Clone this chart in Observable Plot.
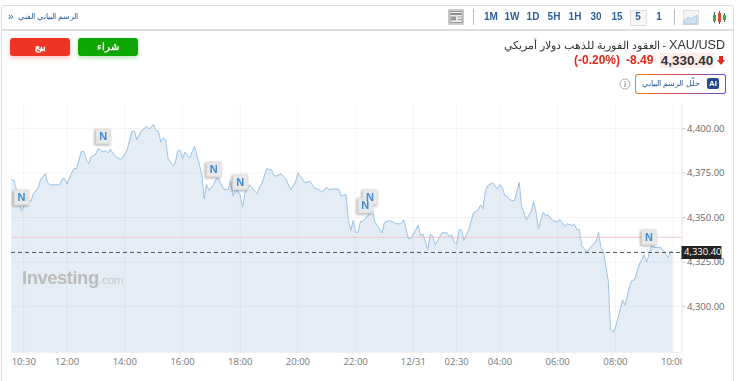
<!DOCTYPE html>
<html><head><meta charset="utf-8">
<script src="https://cdn.jsdelivr.net/npm/d3@7"></script>
<script src="https://cdn.jsdelivr.net/npm/@observablehq/plot@0.6"></script>
<style>
html,body{margin:0;padding:0;background:#fff;overflow:hidden}
#w{position:relative;width:743px;height:381px;font-family:"Liberation Sans",Arial,sans-serif;overflow:hidden}
#w svg.plot{position:absolute;left:0;top:0}
.a{position:absolute;white-space:nowrap}
.t{position:absolute;top:11px;width:20px;text-align:center;font:bold 10px/12px "Liberation Sans",sans-serif;color:#2b5f9e}
.ar{direction:rtl}
</style></head>
<body><div id="w"></div>
<script>
// 5-minute trading bars counted from 10:30 (the session skips the daily break)
const bars = [-5,-4,-3,-2,-1,0,1,3,4,6,7,9,10,11,15,16,17,18,20,21,22,24,25,26,27,28,30,31,33,34,35,36,38,40,41,43,44,45,46,47,49,50,51,52,54,55,56,57,58,59,60,62,63,64,65,66,67,69,71,74,75,76,77,79,80,81,83,85,86,87,88,89,90,91,92,94,97,98,99,101,103,104,105,107,109,111,113,114,117,119,121,123,124,126,127,129,131,132,134,135,136,137,138,139,140,141,145,146,149,150,152,155,157,158,160,161,164,165,166,168,169,170,171,174,176,177,178,179,180,181,182,183,185,187,189,190,191,192,193,195,197,198,199,200,201,202,204,205,206,207,209,211,212,213,214,216,217,218,220,222,223,225,226,228,229,230,231,232,234,236,238,239,240,241,243,244,245,246,249,250,252,253,254,256,258,259,261,262,265,266,268,269,270];
const prices = [4371.3,4370.8,4365.2,4359.6,4353.5,4356.7,4359.6,4359.2,4363.3,4366.7,4371.3,4374.6,4369.3,4368.4,4368.4,4371.7,4371.7,4368.9,4375.4,4377.7,4377.4,4387.2,4387.2,4382.4,4380.2,4383.9,4385.8,4388.8,4386.9,4387.6,4386.3,4388.4,4384.4,4382.8,4383.3,4388.0,4393.3,4398.5,4398.5,4393.7,4398.9,4399.8,4401.3,4399.8,4402.2,4398.9,4398.5,4392.3,4394.8,4393.7,4383.3,4379.2,4380.5,4387.2,4388.0,4383.0,4386.7,4383.5,4390.1,4374.6,4360.5,4368.5,4365.2,4368.5,4371.7,4371.7,4366.1,4365.6,4370.8,4362.0,4365.2,4365.2,4362.4,4355.8,4364.0,4368.4,4363.3,4367.0,4368.9,4377.4,4376.8,4373.6,4373.3,4374.6,4371.7,4365.6,4369.8,4375.1,4369.5,4370.4,4366.5,4365.6,4364.2,4367.0,4365.7,4366.1,4365.9,4362.0,4362.8,4348.3,4342.7,4348.3,4341.7,4341.7,4347.8,4347.8,4353.9,4347.4,4341.4,4347.4,4348.3,4346.5,4346.5,4348.7,4338.0,4338.4,4345.5,4339.9,4340.8,4332.0,4340.3,4339.9,4334.7,4341.4,4341.4,4339.3,4340.3,4336.1,4334.8,4343.1,4343.1,4337.1,4343.1,4352.6,4354.3,4357.1,4354.9,4365.2,4368.0,4369.5,4366.1,4368.5,4367.0,4362.4,4362.0,4360.1,4359.2,4364.2,4369.8,4356.7,4348.7,4353.5,4359.2,4353.0,4343.7,4353.0,4351.1,4351.5,4348.3,4347.4,4348.9,4345.1,4346.5,4345.5,4346.1,4343.3,4343.3,4334.3,4330.9,4333.7,4336.7,4341.7,4333.0,4331.1,4314.6,4286.9,4285.6,4288.0,4303.8,4300.6,4311.8,4314.6,4315.0,4324.0,4329.0,4324.9,4333.7,4333.3,4333.0,4331.5,4327.4,4331.1,4330.4];
const tickBars = [0,18,42,66,90,114,138,162,180,198,222,246,270];
const tickLabels = ["10:30","12:00","14:00","16:00","18:00","20:00","22:00","12/31","02:30","04:00","06:00","08:00","10:00"];
const priceTicks = [4300,4325,4350,4375,4400];
const lastPrice = 4330.40;
const prevClose = 4338.89;
const newsBars = [-1,33,79,90,144,142,260];
const newsPrices = [4361.2,4395.5,4377,4369.8,4361.4,4356.7,4338.9];
const xDomain = [-5.1,273.7];
const yDomain = [4274.2,4413.5];

const rows = bars.map((b,i)=>({bar:b,price:prices[i]}));
const news = newsBars.map((b,i)=>({bar:b,price:newsPrices[i]}));
const fmt = d3.format(",.2f");
const axisFont = '"Open Sans",sans-serif';

const plot = Plot.plot({
  width:743,height:381,
  marginLeft:11,marginRight:61.5,marginTop:104,marginBottom:29,
  style:{background:"transparent",fontFamily:axisFont,overflow:"visible"},
  x:{domain:xDomain,label:null},
  y:{domain:yDomain,label:null},
  marks:[
    Plot.areaY(rows,{x:"bar",y1:()=>yDomain[0],y2:"price",fill:"#e4edf5"}),
    Plot.gridX({ticks:tickBars,stroke:"#000",strokeOpacity:0.04}),
    Plot.gridY({ticks:priceTicks,stroke:"#000",strokeOpacity:0.04}),
    Plot.ruleY([yDomain[0]],{stroke:"#000",strokeOpacity:0.06}),
    Plot.ruleX([xDomain[1]],{stroke:"#e3e3e3"}),
    Plot.ruleY([prevClose],{stroke:"#efc8c8"}),
    Plot.lineY(rows,{x:"bar",y:"price",stroke:"#9ac4e6",strokeWidth:1}),
    Plot.axisY({anchor:"right",ticks:priceTicks,tickFormat:fmt,tickSize:3,tickPadding:2,fontSize:9.5,color:"#666",stroke:"#ccc",label:null}),
    Plot.axisX({ticks:tickBars,tickFormat:d=>tickLabels[tickBars.indexOf(d)],tickSize:0,tickPadding:6,fontSize:9.5,color:"#777",label:null}),
    Plot.ruleY([lastPrice],{stroke:"#555",strokeDasharray:"4,3"}),
    Plot.ruleY([lastPrice],{x1:xDomain[1],x2:xDomain[1]+16.6,stroke:"#222",strokeWidth:13}),
    Plot.text([lastPrice],{x:xDomain[1],y:d=>d,text:fmt,textAnchor:"start",dx:2,fill:"#fff",fontSize:9.5}),
    Plot.dot(news,{x:"bar",y:"price",symbol:"square",r:8.5,fill:"#e8e8e8",stroke:"#ddd",strokeWidth:0.5,
      render(i,s,v,d,c,next){const g=next(i,s,v,d,c);g.style.filter="drop-shadow(-1px 1px 1px rgba(0,0,0,.35))";return g;}}),
    Plot.text(news,{x:"bar",y:"price",text:()=>"N",fill:"#3d8bd4",fontWeight:"bold",fontSize:11,fontFamily:'"Liberation Sans",sans-serif'})
  ]
});
const w = document.getElementById("w");
w.appendChild(plot);
plot.classList.add("plot");

const times = ["1M","1W","1D","5H","1H","30","15","5","1"];
const timeX = [491,512,533,554,575,596,617,638,659];
const tbar = times.map((t,i)=>`<div class="t" style="left:${timeX[i]-10}px">${t}</div>`).join("");
w.insertAdjacentHTML("beforeend",`
<div class="a" style="left:681.8px;top:354px;width:4px;height:14px;background:#fff"></div>
<div class="a" style="left:1px;top:5px;width:731px;height:380px;border:1.5px solid #ddd;border-radius:3px;pointer-events:none"></div>
<div class="a" style="left:1px;top:29px;width:733px;height:1.5px;background:#ddd"></div>
<div class="a" style="left:8px;top:11px;font-size:10px;line-height:12px;color:#2b5f9e">»</div>
<div class="a ar" style="left:17px;top:11px;width:62px;font-size:7.6px;line-height:12px;color:#2b5f9e;text-align:center">الرسم البياني الفني</div>
${tbar}
<div class="a" style="left:630px;top:10px;width:15px;height:14px;border:1px solid #ddd;background:#f6f6f6;border-radius:1px;z-index:0"></div>
<div class="t" style="left:628px;z-index:1">5</div>
<div class="a" style="left:472.5px;top:9px;width:1px;height:16px;background:#bbb"></div>
<div class="a" style="left:674px;top:9px;width:1px;height:16px;background:#bbb"></div>
<svg class="a" style="left:448px;top:9px" width="16" height="16"><rect width="16" height="16" fill="#ccc"/><rect x="2" y="2.5" width="12" height="11" fill="#eee" stroke="#999"/><rect x="3" y="4" width="10" height="2" fill="#888"/><rect x="3" y="7.5" width="5" height="4" fill="#999"/><rect x="9.5" y="7.5" width="3.5" height="1" fill="#999"/><rect x="9.5" y="10" width="3.5" height="1" fill="#999"/></svg>
<svg class="a" style="left:683px;top:10px" width="16" height="15"><rect x=".5" y=".5" width="15" height="14" fill="#f4f6f8" stroke="#ddd"/><path d="M1 11L5 7L8 9L14 5V14H1Z" fill="#cfe0ef" stroke="#9cc0de" stroke-width=".8"/></svg>
<svg class="a" style="left:712px;top:10px" width="15" height="15"><path d="M2.5 2V13M7.5 1V14M12.5 3V12" stroke="#555" stroke-width="1"/><rect x="1" y="5" width="3" height="6" fill="#4aa832"/><rect x="6" y="3" width="3" height="9" fill="#e0453a"/><rect x="11" y="5" width="3" height="5" fill="#4aa832"/></svg>
<div class="a" style="left:10px;top:38px;width:60px;height:18px;background:#ef3524;border-radius:3px;box-shadow:0 2px 4px rgba(239,53,36,.3);color:#fff;font:bold 9.5px/18px 'Liberation Sans',sans-serif;text-align:center">بيع</div>
<div class="a" style="left:78px;top:38px;width:60px;height:18px;background:#0ea800;border-radius:3px;box-shadow:0 2px 4px rgba(14,168,0,.3);color:#fff;font:bold 9.5px/18px 'Liberation Sans',sans-serif;text-align:center">شراء</div>
<div class="a" style="right:18px;top:37px;font-size:10.7px;line-height:16px;color:#333" dir="rtl"><bdi style="font-size:12.6px">XAU/USD</bdi> - العقود الفورية للذهب دولار أمريكي</div>
<div class="a" style="left:659.5px;top:53px;width:54.5px;height:15px;background:#fdecea"></div>
<div class="a" style="left:660px;top:53px;width:54px;text-align:center;font:bold 13.5px/15px 'Liberation Sans',sans-serif;color:#333">4,330.40</div>
<svg class="a" style="left:717px;top:56px" width="8" height="9"><path d="M2 0H6V4H8L4 9L0 4H2Z" fill="#e0281e"/></svg>
<div class="a" style="left:626px;top:53px;font:bold 12px/15px 'Liberation Sans',sans-serif;color:#e0281e">-8.49</div>
<div class="a" style="left:574px;top:53px;font:bold 12px/15px 'Liberation Sans',sans-serif;color:#e0281e">(-0.20%)</div>
<div class="a" style="left:635px;top:74px;width:91px;height:20px;border-radius:3px;padding:1px;box-sizing:border-box;background:linear-gradient(90deg,#f08020,#e04060,#5a50e0)"><div style="width:100%;height:100%;background:#fff;border-radius:2px"></div></div>
<div class="a ar" style="left:642px;top:78px;width:58px;text-align:center;font-size:7.5px;line-height:12px;color:#2b5f9e">حلّل الرسم البياني</div>
<div class="a" style="left:707px;top:78px;width:12px;height:11px;background:#264a8c;border-radius:2px;color:#fff;font:bold 8px/11px 'Liberation Sans',sans-serif;text-align:center">AI</div>
<svg class="a" style="left:619px;top:78px" width="12" height="12"><circle cx="6" cy="6" r="5" fill="#fff" stroke="#aaa"/><rect x="5.4" y="5" width="1.2" height="4" fill="#999"/><rect x="5.4" y="3" width="1.2" height="1.2" fill="#999"/></svg>
<div class="a" style="left:22px;top:267px;font:bold 18.5px/22px 'Liberation Sans',sans-serif;color:#bdbdbd;letter-spacing:-.5px">Investing<span style="font-weight:normal;font-size:11.5px;color:#c8c8c8;letter-spacing:0">.com</span></div>
`);
</script></body></html>
